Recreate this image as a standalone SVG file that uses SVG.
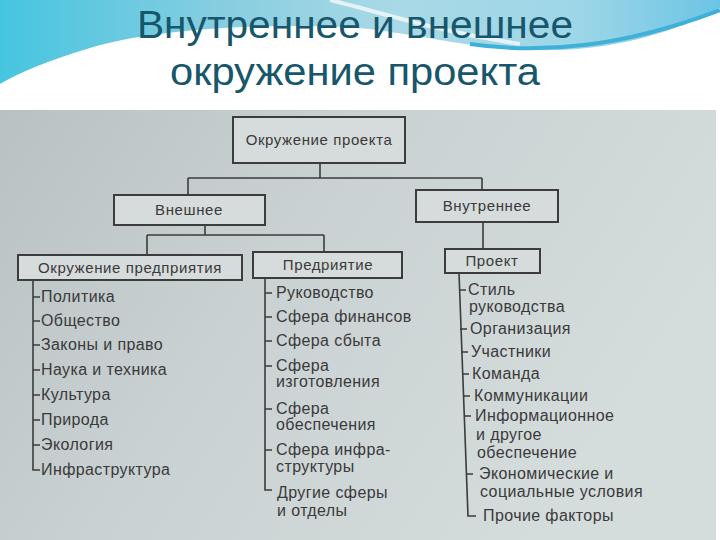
<svg xmlns="http://www.w3.org/2000/svg" width="720" height="540" viewBox="0 0 720 540">
<defs>
<linearGradient id="sky" x1="0" y1="0" x2="1" y2="0">
<stop offset="0" stop-color="#46c5e0"/>
<stop offset="0.3" stop-color="#86cde0"/>
<stop offset="0.55" stop-color="#a9d9e6"/>
<stop offset="0.8" stop-color="#9ed6e8"/>
<stop offset="1" stop-color="#6cc4e4"/>
</linearGradient>
<linearGradient id="photo" x1="0" y1="0" x2="1" y2="0.4">
<stop offset="0" stop-color="#b9c1c3"/>
<stop offset="0.45" stop-color="#c9d1d2"/>
<stop offset="1" stop-color="#d5dcdc"/>
</linearGradient>
<style>
.title{font-family:"Liberation Sans",Arial,sans-serif;font-size:38px;fill:#17566b;text-anchor:middle}
.box{fill:#d6dbdb;stroke:#3c3c3c;stroke-width:2}
.bl{font-family:"Liberation Sans",Arial,sans-serif;font-size:15px;letter-spacing:0.6px;fill:#3a3a3a;text-anchor:middle}
.it{font-family:"Liberation Sans",Arial,sans-serif;font-size:16px;letter-spacing:0.4px;fill:#3a3a3a}
.ln{fill:none;stroke:#3c3c3c;stroke-width:1.6}
</style>
</defs>
<rect x="0" y="0" width="720" height="540" fill="#ffffff"/>
<g id="header">
<path d="M0,0 H720 V8 C680,30 620,48 560,50 C480,52 420,34 360,28 C260,22 150,30 90,48 C50,60 20,72 0,84 Z" fill="url(#sky)"/>
<path d="M470,44 C540,54 620,48 720,10" fill="none" stroke="#3fb0d8" stroke-width="4"/>
<path d="M330,0 C380,12 430,30 520,44" fill="none" stroke="#ffffff" stroke-width="4" opacity="0.7"/>
<text class="title" x="355" y="38" textLength="436" lengthAdjust="spacingAndGlyphs">Внутреннее и внешнее</text>
<text class="title" x="355" y="85" textLength="370" lengthAdjust="spacingAndGlyphs">окружение проекта</text>
</g>
<rect x="0" y="110" width="716" height="430" fill="url(#photo)"/>
<g id="connectors">
<path class="ln" d="M320,163 V178 M188,178 H482 M188,178 V195 M482,178 V190"/>
<path class="ln" d="M205,225 V235 M147,235 H324 M147,235 V255 M324,235 V252"/>
<path class="ln" d="M483,222 V249"/>
<path class="ln" d="M33,280 V470 H40 M33,297 H40 M33,321 H40 M33,345 H40 M33,370 H40 M33,395 H40 M33,420 H40 M33,445 H40"/>
<path class="ln" d="M265,278 V490 H272 M265,293 H272 M265,317 H272 M265,341 H272 M265,366 H272 M265,409 H272 M265,450 H272"/>
<path class="ln" d="M459,273 L468,516 H476 M459,290 H466 M460,329 H467 M461,352 H468 M462,374 H469 M463,396 H470 M464,416 H471 M466,474 H473"/>
</g>
<g id="n-root"><rect class="box" x="233" y="117" width="172" height="46"/><text class="bl" x="319" y="145">Окружение проекта</text></g>
<g id="n-ext"><rect class="box" x="114" y="195" width="151" height="30"/><text class="bl" x="189" y="215">Внешнее</text></g>
<g id="n-int"><rect class="box" x="416" y="190" width="142" height="32"/><text class="bl" x="487" y="211">Внутреннее</text></g>
<g id="n-ent-env"><rect class="box" x="18" y="255" width="224" height="25"/><text class="bl" x="130" y="273">Окружение предприятия</text></g>
<g id="n-ent"><rect class="box" x="253" y="252" width="149" height="26"/><text class="bl" x="328" y="270">Предриятие</text></g>
<g id="n-proj"><rect class="box" x="445" y="249" width="95" height="24"/><text class="bl" x="492" y="266">Проект</text></g>
<g id="list-left">
<text class="it" x="41" y="302">Политика</text>
<text class="it" x="41" y="326">Общество</text>
<text class="it" x="41" y="350">Законы и право</text>
<text class="it" x="41" y="375">Наука и техника</text>
<text class="it" x="41" y="400">Культура</text>
<text class="it" x="41" y="425">Природа</text>
<text class="it" x="41" y="450">Экология</text>
<text class="it" x="41" y="475">Инфраструктура</text>
</g>
<g id="list-mid">
<text class="it" x="276" y="298">Руководство</text>
<text class="it" x="276" y="322">Сфера финансов</text>
<text class="it" x="276" y="346">Сфера сбыта</text>
<text class="it" x="276" y="371">Сфера</text>
<text class="it" x="276" y="387">изготовления</text>
<text class="it" x="276" y="414">Сфера</text>
<text class="it" x="276" y="430">обеспечения</text>
<text class="it" x="276" y="455">Сфера инфра-</text>
<text class="it" x="276" y="472">структуры</text>
<text class="it" x="277" y="498">Другие сферы</text>
<text class="it" x="277" y="516">и отделы</text>
</g>
<g id="list-right">
<text class="it" x="468" y="295">Стиль</text>
<text class="it" x="469" y="312">руководства</text>
<text class="it" x="470" y="334">Организация</text>
<text class="it" x="471" y="357">Участники</text>
<text class="it" x="472" y="379">Команда</text>
<text class="it" x="474" y="401">Коммуникации</text>
<text class="it" x="475" y="421">Информационное</text>
<text class="it" x="476" y="440">и другое</text>
<text class="it" x="477" y="458">обеспечение</text>
<text class="it" x="479" y="479">Экономические и</text>
<text class="it" x="480" y="497">социальные условия</text>
<text class="it" x="483" y="521">Прочие факторы</text>
</g>
</svg>
